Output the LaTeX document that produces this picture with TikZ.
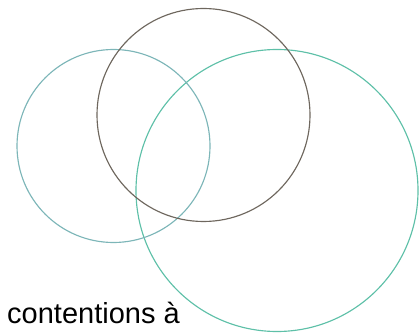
\documentclass[tikz,border=0pt]{standalone}
\usepackage{fontspec}
\setmainfont{Liberation Sans}
\definecolor{leftteal}{HTML}{7DB6B8}
\definecolor{topgray}{HTML}{6E675E}
\definecolor{rightteal}{HTML}{5EC0A8}
\begin{document}
\begin{tikzpicture}[x=1pt,y=1pt,
  ring/.style={line width=1.15pt}]
\useasboundingbox (0,0) rectangle (420,335);
\draw[ring, color=rightteal] (277,144.5) circle (141);
\draw[ring, color=leftteal] (113.5,189) circle (96.5);
\draw[ring, color=topgray] (203.5,220) circle (106.5);
\node[anchor=base west, inner sep=0pt, font=\fontsize{29}{34}\selectfont] (lbl) at (7,12) {contentions à};
\end{tikzpicture}
\end{document}
